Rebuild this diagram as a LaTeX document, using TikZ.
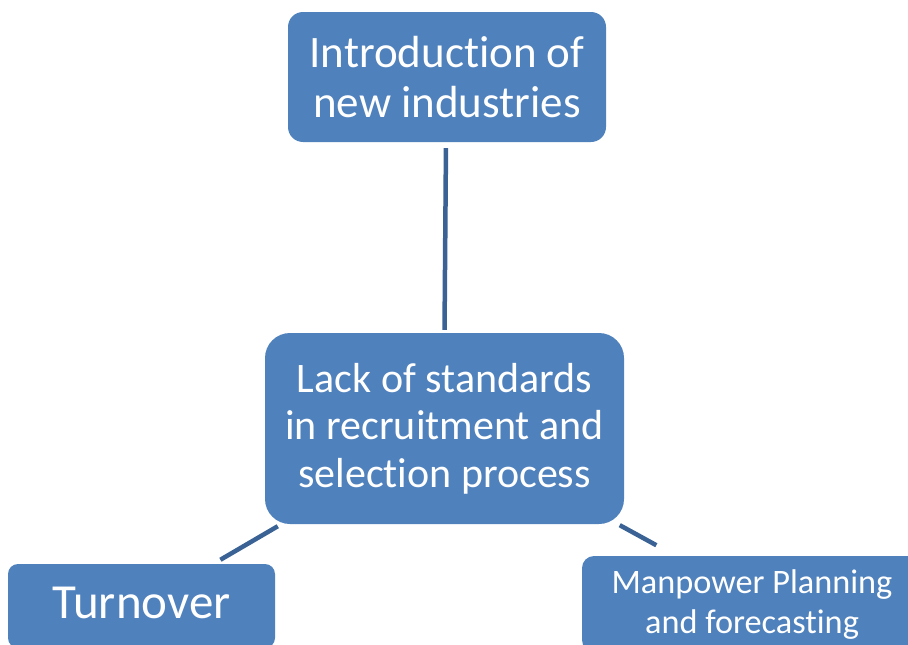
\documentclass[tikz,border=0pt]{standalone}
\usepackage{fontspec}
\setmainfont{Carlito}[RawFeature={-liga;-dlig;-clig}]
\definecolor{boxfill}{RGB}{79,129,189}
\definecolor{linecol}{RGB}{58,98,148}
\tikzset{
  box/.style={fill=boxfill, text=white, align=center, inner sep=0pt},
  conn/.style={draw=linecol, line width=4.5pt}
}
\begin{document}
\begin{tikzpicture}[x=1pt,y=-1pt]
\useasboundingbox (0,0) rectangle (908,645);
\clip (0,0) rectangle (908,645);
\node[box, rounded corners=15pt, minimum width=318pt, minimum height=130pt,
  font=\fontsize{45}{50}\selectfont] (top) at (447,77) {Introduct\kern0pt ion of\\new industries};
\node[box, rounded corners=25pt, minimum width=359pt, minimum height=191pt,
  font=\fontsize{42}{47.5}\selectfont] (mid) at (444.5,428.5) {Lack of standards\\in recruit\kern0pt ment and\\select\kern0pt ion process};
\node[box, rounded corners=10pt, minimum width=267pt, minimum height=84pt] (turn) at (141.5,606) {};
\node[box, rounded corners=12pt, minimum width=362pt, minimum height=96pt] (man) at (763,604) {};
\node[text=white, font=\fontsize{49}{55}\selectfont, anchor=base] (turnt) at (141.5,618) {Turnover};
\node[text=white, align=center, font=\fontsize{34.3}{40}\selectfont, anchor=base] (mant) at (752,633) {Manpower Planning\\and forecast\kern0pt ing};
\draw[conn, shorten <=6pt, shorten >=3pt] ([xshift=-1pt]top.south) -- (mid.north);
\draw[conn, shorten <=4pt, shorten >=8pt] (mid) -- (turn);
\draw[conn, shorten <=2pt, shorten >=22pt] (mid) -- (man);
\end{tikzpicture}
\end{document}
